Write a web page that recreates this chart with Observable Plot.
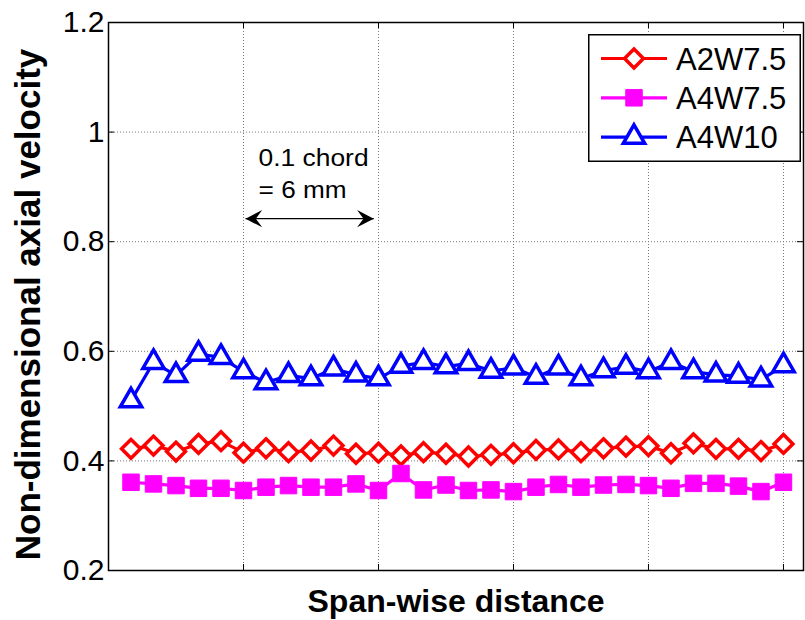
<!DOCTYPE html>
<html><head><meta charset="utf-8">
<script src="https://cdn.jsdelivr.net/npm/d3@7"></script>
<script src="https://cdn.jsdelivr.net/npm/@observablehq/plot@0.6"></script>
<style>
body{margin:0;background:#fff;}
#chart{position:relative;width:805px;height:620px;font-family:"Liberation Sans",Arial,sans-serif;}
</style></head><body><div id="chart"></div>
<script>
// ---- data ----
const spanIndex = [1,2,3,4,5,6,7,8,9,10,11,12,13,14,15,16,17,18,19,20,21,22,23,24,25,26,27,28,29,30];
const seriesNames = ["A2W7.5", "A4W7.5", "A4W10"];
const a2w75 = [0.422,0.428,0.417,0.431,0.436,0.415,0.423,0.416,0.419,0.428,0.413,0.415,0.410,0.416,0.413,0.408,0.411,0.414,0.420,0.421,0.416,0.423,0.426,0.427,0.414,0.432,0.422,0.422,0.418,0.431];
const a4w75 = [0.361,0.358,0.355,0.350,0.350,0.346,0.352,0.355,0.352,0.352,0.358,0.346,0.377,0.347,0.356,0.346,0.347,0.344,0.352,0.357,0.352,0.356,0.357,0.355,0.350,0.359,0.359,0.354,0.344,0.361];
const a4w10 = [0.510,0.580,0.556,0.595,0.589,0.563,0.543,0.556,0.550,0.568,0.557,0.550,0.573,0.580,0.572,0.578,0.564,0.570,0.553,0.570,0.550,0.565,0.571,0.563,0.580,0.563,0.557,0.555,0.548,0.574];
const yTicks = [0.2,0.4,0.6,0.8,1.0,1.2];
const xTicks = [0,6,12,18,24,30];
const xDomain = [0, 30.89];
const yDomain = [0.2, 1.2];
const xLabel = "Span-wise distance";
const yLabel = "Non-dimensional axial velocity";
const noteLines = [{x: 6.67, y: 0.951, text: "0.1 chord"}, {x: 6.67, y: 0.893, text: "= 6 mm"}];
const noteArrow = [{x1: 6.09, x2: 11.79, y: 0.842}];

// ---- styles ----
const FONT = '"Liberation Sans", Arial, sans-serif';
const colors = ["#ff0000", "#ff00ff", "#0000ff"];
const symbols = ["diamond2", "square", "triangle2"];
const symFill = ["white", "#ff00ff", "white"];
const symR = [8.5, 9.3, 10.2];
const symSW = [3.5, 1, 3.5];

const values = [a2w75, a4w75, a4w10];
const data = [];
seriesNames.forEach((name, k) => values[k].forEach((v, i) => data.push({x: spanIndex[i], y: v, name})));

const W = 805, H = 620, ML = 108, MR = 2, MT = 22, MB = 50;
const PW = W - ML - MR, PH = H - MT - MB;
const TICK = 6;

const arrowRight = {draw(ctx, size) { const s = Math.sqrt(size); ctx.moveTo(0,0); ctx.lineTo(-s, -s*0.52); ctx.lineTo(-s*0.62, 0); ctx.lineTo(-s, s*0.52); ctx.closePath(); }};
const arrowLeft = {draw(ctx, size) { const s = Math.sqrt(size); ctx.moveTo(0,0); ctx.lineTo(s, -s*0.52); ctx.lineTo(s*0.62, 0); ctx.lineTo(s, s*0.52); ctx.closePath(); }};

const marks = [
  Plot.ruleY(yTicks.slice(1, -1), {y: d => d, stroke: "#777", strokeWidth: 1, strokeDasharray: "1,2"}),
  Plot.ruleX(xTicks.slice(1), {x: d => d, stroke: "#777", strokeWidth: 1, strokeDasharray: "1,2"}),
  Plot.tickY(yTicks, {y: d => d, insetRight: PW - TICK, stroke: "black", strokeWidth: 1}),
  Plot.tickY(yTicks, {y: d => d, insetLeft: PW - TICK, stroke: "black", strokeWidth: 1}),
  Plot.tickX(xTicks, {x: d => d, insetTop: PH - TICK, stroke: "black", strokeWidth: 1}),
  Plot.tickX(xTicks, {x: d => d, insetBottom: PH - TICK, stroke: "black", strokeWidth: 1}),
  Plot.axisY({ticks: yTicks, tickSize: 0, tickPadding: 4, fontSize: 30, label: null, tickFormat: d => String(+d.toFixed(1))}),
];
seriesNames.forEach((name, k) => {
  const sub = data.filter(d => d.name === name);
  marks.push(Plot.line(sub, {x: "x", y: "y", stroke: colors[k], strokeWidth: 3.2}));
});
seriesNames.forEach((name, k) => {
  const sub = data.filter(d => d.name === name);
  marks.push(Plot.dot(sub, {x: "x", y: "y", symbol: symbols[k], r: symR[k], fill: symFill[k], stroke: colors[k], strokeWidth: symSW[k]}));
});
marks.push(
  Plot.frame({stroke: "black", strokeWidth: 1.5}),
  Plot.link(noteArrow, {x1: "x1", x2: "x2", y1: "y", y2: "y", stroke: "black", strokeWidth: 1.3}),
  Plot.dot(noteArrow, {x: "x1", y: "y", symbol: arrowLeft, r: 9.4, fill: "black", stroke: "none"}),
  Plot.dot(noteArrow, {x: "x2", y: "y", symbol: arrowRight, r: 9.4, fill: "black", stroke: "none"}),
  Plot.text(noteLines, {x: "x", y: "y", text: "text", textAnchor: "start", fontSize: 23, fill: "black"}),
  Plot.text([yLabel], {frameAnchor: "left", textAnchor: "middle", lineAnchor: "middle", dx: -80, dy: 8, rotate: -90, fontSize: 35, fontWeight: "bold", fill: "black"}),
  Plot.text([xLabel], {frameAnchor: "bottom", textAnchor: "middle", lineAnchor: "middle", dx: 0, dy: 31, fontSize: 32, fontWeight: "bold", fill: "black"})
);

const plot = Plot.plot({
  width: W, height: H,
  marginLeft: ML, marginRight: MR, marginTop: MT, marginBottom: MB,
  style: {fontFamily: FONT, background: "white", color: "black", overflow: "visible"},
  x: {domain: xDomain, axis: null},
  y: {domain: yDomain, axis: null},
  marks
});
const chart = document.getElementById("chart");
chart.appendChild(plot);

// widen annotation text as in the reference
d3.select(plot).selectAll("text").filter(function() { return this.textContent === "0.1 chord"; })
  .attr("textLength", 110).attr("lengthAdjust", "spacingAndGlyphs");
d3.select(plot).selectAll("text").filter(function() { return this.textContent === "= 6 mm"; })
  .attr("textLength", 88).attr("lengthAdjust", "spacingAndGlyphs");

// ---- legend (overlay inside the axes, top right) ----
const LW = 213, LH = 128;
const leg = d3.create("svg").attr("width", LW).attr("height", LH)
  .style("position", "absolute").style("left", "588px").style("top", "34px").style("overflow", "visible");
leg.append("rect").attr("x", 0.75).attr("y", 0.75).attr("width", LW - 1.5).attr("height", LH - 1.5)
  .attr("fill", "white").attr("stroke", "black").attr("stroke-width", 1.5);
const d3sym = {"diamond2": d3.symbolDiamond2, "square": d3.symbolSquare, "triangle2": d3.symbolTriangle2};
seriesNames.forEach((name, k) => {
  const cy = 24.5 + k * 39.3;
  const g = leg.append("g");
  g.append("line").attr("x1", 13).attr("x2", 79).attr("y1", cy).attr("y2", cy).attr("stroke", colors[k]).attr("stroke-width", 3.2);
  g.append("path").attr("transform", `translate(46,${cy})`)
    .attr("d", d3.symbol(d3sym[symbols[k]], symR[k] * symR[k] * Math.PI)())
    .attr("fill", symFill[k]).attr("stroke", colors[k]).attr("stroke-width", symSW[k]);
  g.append("text").attr("x", 88).attr("y", cy + 11).attr("font-size", 31).attr("font-family", FONT).attr("fill", "black").text(name);
});
chart.appendChild(leg.node());
</script></body></html>
